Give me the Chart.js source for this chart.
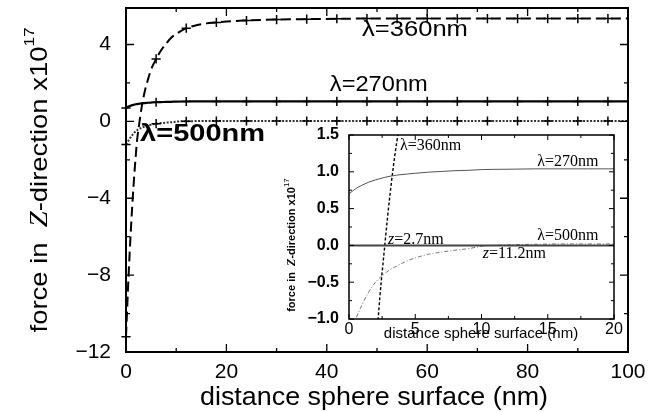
<!DOCTYPE html>
<html><head><meta charset="utf-8">
<script src="https://cdn.jsdelivr.net/npm/chart.js@4"></script>
<style>
html,body{margin:0;padding:0;background:#fff;}
#wrap{position:relative;width:650px;height:412px;overflow:hidden;}
#main{position:absolute;left:0;top:0;}
#inset{position:absolute;left:280px;top:120px;}
</style></head><body>
<div id="wrap"><canvas id="main" width="650" height="412"></canvas><canvas id="inset" width="350" height="230"></canvas></div>
<script>
// ---- data ----
const distance = [0, 0.5, 1, 1.5, 2, 2.2, 2.7, 3.1, 3.6, 4.4, 5, 6, 7, 8, 9, 10, 12, 14, 16, 18, 20, 24, 30, 36, 42, 48, 54, 60, 66, 72, 78, 84, 90, 96, 100];
const force360 = [-11.2, -8.1, -5.5, -3.35, -1.6, -1.0, 0, 0.7, 1.4, 2.2, 2.7, 3.25, 3.7, 4.05, 4.35, 4.55, 4.85, 5.0, 5.1, 5.15, 5.2, 5.25, 5.3, 5.32, 5.34, 5.35, 5.35, 5.35, 5.35, 5.35, 5.35, 5.35, 5.35, 5.35, 5.35];
const force270 = [0.7, 0.77, 0.82, 0.86, 0.89, 0.9, 0.925, 0.94, 0.955, 0.97, 0.98, 0.995, 1.005, 1.015, 1.02, 1.03, 1.035, 1.04, 1.04, 1.04, 1.04, 1.04, 1.04, 1.04, 1.04, 1.04, 1.04, 1.04, 1.04, 1.04, 1.04, 1.04, 1.04, 1.04, 1.04];
const force500 = [-1.2, -1.0, -0.8, -0.63, -0.5, -0.46, -0.38, -0.33, -0.28, -0.21, -0.17, -0.12, -0.09, -0.065, -0.045, -0.012, 0.008, 0.015, 0.02, 0.02, 0.02, 0.02, 0.02, 0.02, 0.02, 0.02, 0.02, 0.02, 0.02, 0.02, 0.02, 0.02, 0.02, 0.02, 0.02];
const zeroLineX = [0, 20];
const zeroLineY = [0, 0];
const markerStep = 6;
const mainXTicks = [0, 20, 40, 60, 80, 100];
const mainYTicks = [-12, -8, -4, 0, 4];
const insetXTicks = [0, 5, 10, 15, 20];
const insetYTicks = [-1.0, -0.5, 0.0, 0.5, 1.0, 1.5];

const pts = ys => distance.map((x, i) => ({x: x, y: ys[i]}));
const minus = s => s.replace('-', '\u2212');
const SANS = '"Liberation Sans", Arial, Helvetica, sans-serif';
const SERIF = '"Liberation Serif", "Times New Roman", serif';

function isMarker(ctx) {
  const r = ctx.raw; if (!r) return false;
  const q = r.x / markerStep;
  return Math.abs(q - Math.round(q)) < 1e-9 && r.x < 100;
}
function noPadV(s, w) { s.width = w; s.paddingTop = 0; s.paddingBottom = 0; }
function noPadH(s, h) { s.height = h; s.paddingLeft = 0; s.paddingRight = 0; }

// inward tick marks + frame
function framePlugin(o) {
  return {
    id: 'frame',
    beforeDatasetsDraw(chart) {
      if (!o.fill) return;
      const a = chart.chartArea, c = chart.ctx;
      c.save(); c.fillStyle = '#fff'; c.fillRect(a.left, a.top, a.width, a.height); c.restore();
    },
    afterDatasetsDraw(chart) {
      const c = chart.ctx, a = chart.chartArea, x = chart.scales.x, y = chart.scales.y;
      c.save(); c.strokeStyle = '#000'; c.lineWidth = o.tickW;
      const isMaj = (v, m) => Math.abs(v / m - Math.round(v / m)) < 1e-6;
      c.beginPath();
      for (let i = 0; ; i++) {
        const v = x.min + i * o.xMinor; if (v > x.max + 1e-9) break;
        const p = x.getPixelForValue(v), L = isMaj(v, o.xMajor) ? o.major : o.minor;
        c.moveTo(p, a.bottom); c.lineTo(p, a.bottom - L);
        c.moveTo(p, a.top); c.lineTo(p, a.top + L);
      }
      for (let i = 0; ; i++) {
        const v = o.yStart + i * o.yMinor; if (v > y.max + 1e-9) break;
        if (v < y.min - 1e-9) continue;
        const p = y.getPixelForValue(v), L = isMaj(v, o.yMajor) ? o.major : o.minor;
        c.moveTo(a.left, p); c.lineTo(a.left + L, p);
        c.moveTo(a.right, p); c.lineTo(a.right - L, p);
      }
      c.stroke();
      c.lineWidth = o.frameW;
      c.strokeRect(a.left, a.top, a.width, a.height);
      c.restore();
    }
  };
}

// text pieces drawn in sequence, optionally stretched to a target width
function drawPieces(c, pieces, x0, y0, rot, align, targetW) {
  c.save(); c.translate(x0, y0); if (rot) c.rotate(rot);
  c.fillStyle = '#000'; c.textBaseline = 'middle'; c.textAlign = 'left';
  let w = 0; pieces.forEach(p => { c.font = p.f; w += c.measureText(p.t).width; });
  const sx = targetW ? targetW / w : 1;
  c.scale(sx, 1);
  let xx = align === 'left' ? 0 : -w / 2;
  pieces.forEach(p => { c.font = p.f; c.fillText(p.t, xx, p.dy || 0); xx += c.measureText(p.t).width; });
  c.restore();
}

function labelsPlugin(list, titles) {
  return {
    id: 'labels',
    afterDraw(chart) {
      const c = chart.ctx, x = chart.scales.x, y = chart.scales.y;
      list.forEach(l => {
        drawPieces(c, l.pieces, x.getPixelForValue(l.x), y.getPixelForValue(l.y), 0, 'left', l.w);
      });
      titles(chart, c);
    }
  };
}

const crossPts = {pointStyle: 'cross', pointRadius: c => isMarker(c) ? 4.6 : 0, pointBorderWidth: 1.5, pointBorderColor: '#000', pointHoverRadius: 0};

// ---- main chart ----
new Chart(document.getElementById('main'), {
  type: 'line',
  data: {
    datasets: [
      Object.assign({data: pts(force360), borderColor: '#000', borderWidth: 2, borderDash: [10, 5], cubicInterpolationMode: 'monotone', clip: false}, crossPts),
      Object.assign({data: pts(force270), borderColor: '#000', borderWidth: 2.2, cubicInterpolationMode: 'monotone', clip: false}, crossPts),
      Object.assign({data: pts(force500), borderColor: '#333', borderWidth: 2, borderDash: [2, 1.5], cubicInterpolationMode: 'monotone', clip: false}, crossPts)
    ]
  },
  options: {
    responsive: false, animation: false, devicePixelRatio: 1,
    layout: {padding: {top: 8, right: 22, left: 0, bottom: 0}},
    plugins: {legend: {display: false}, tooltip: {enabled: false}},
    scales: {
      x: {type: 'linear', min: 0, max: 100,
          grid: {display: false, drawTicks: false}, border: {display: false},
          afterBuildTicks: s => { s.ticks = mainXTicks.map(v => ({value: v})); },
          afterFit: s => noPadH(s, 60),
          ticks: {padding: 8, color: '#000', font: {family: SANS, size: 21}, maxRotation: 0, callback: v => minus(String(v))}},
      y: {type: 'linear', min: -12, max: 5.9,
          grid: {display: false, drawTicks: false}, border: {display: false},
          afterBuildTicks: s => { s.ticks = mainYTicks.map(v => ({value: v})); },
          afterFit: s => noPadV(s, 126),
          ticks: {padding: 15, color: '#000', font: {family: SANS, size: 21}, callback: v => minus(String(v))}}
    }
  },
  plugins: [
    framePlugin({xMajor: 20, xMinor: 10, yStart: -12, yMajor: 4, yMinor: 2, major: 8, minor: 4, tickW: 1.3, frameW: 2, fill: false}),
    labelsPlugin([
      {x: 47, y: 4.74, w: 106, pieces: [{t: 'λ=360nm', f: '22px ' + SANS}]},
      {x: 40.6, y: 1.91, w: 98, pieces: [{t: 'λ=270nm', f: '22px ' + SANS}]},
      {x: 2.8, y: -0.68, w: 125, pieces: [{t: 'λ=500nm', f: 'bold 23px ' + SANS}]}
    ], (chart, c) => {
      drawPieces(c, [{t: 'distance sphere surface (nm)', f: '25px ' + SANS}], 374, 398, 0, 'center', 348);
      drawPieces(c, [
        {t: 'force in  ', f: '24px ' + SANS},
        {t: 'Z', f: 'italic 25px ' + SERIF},
        {t: '-direction x10', f: '24px ' + SANS},
        {t: '17', f: '15px ' + SANS, dy: -10}
      ], 40, 180, -Math.PI / 2, 'center', 305);
    })
  ]
});

// ---- inset chart ----
new Chart(document.getElementById('inset'), {
  type: 'line',
  data: {
    datasets: [
      {data: zeroLineX.map((x, i) => ({x: x, y: zeroLineY[i]})), borderColor: '#444', borderWidth: 2, pointRadius: 0},
      {data: pts(force270), borderColor: '#555', borderWidth: 1, cubicInterpolationMode: 'monotone', pointRadius: 0},
      {data: pts(force500), borderColor: '#777', borderWidth: 1, borderDash: [4, 2, 1, 2], cubicInterpolationMode: 'monotone', pointRadius: 0},
      {data: pts(force360), borderColor: '#000', borderWidth: 1.4, borderDash: [3, 2], cubicInterpolationMode: 'monotone', pointRadius: 0}
    ]
  },
  options: {
    responsive: false, animation: false, devicePixelRatio: 1,
    layout: {padding: {top: 15, right: 16, left: 0, bottom: 0}},
    plugins: {legend: {display: false}, tooltip: {enabled: false}},
    scales: {
      x: {type: 'linear', min: 0, max: 20,
          grid: {display: false, drawTicks: false}, border: {display: false},
          afterBuildTicks: s => { s.ticks = insetXTicks.map(v => ({value: v})); },
          afterFit: s => noPadH(s, 31),
          ticks: {padding: 1, color: '#000', font: {family: SANS, size: 16}, maxRotation: 0, callback: v => String(v)}},
      y: {type: 'linear', min: -1, max: 1.5,
          grid: {display: false, drawTicks: false}, border: {display: false},
          afterBuildTicks: s => { s.ticks = insetYTicks.map(v => ({value: v})); },
          afterFit: s => noPadV(s, 69),
          ticks: {padding: 10, color: '#000', font: {family: SANS, size: 16, weight: 'bold'}, callback: v => minus(Number(v).toFixed(1))}}
    }
  },
  plugins: [
    framePlugin({xMajor: 5, xMinor: 2.5, yStart: -1, yMajor: 0.5, yMinor: 0.25, major: 5, minor: 3, tickW: 1, frameW: 1.5, fill: true}),
    labelsPlugin([
      {x: 3.85, y: 1.36, pieces: [{t: 'λ=360nm', f: '16px ' + SERIF}]},
      {x: 14.2, y: 1.14, pieces: [{t: 'λ=270nm', f: '16px ' + SERIF}]},
      {x: 2.95, y: 0.08, pieces: [{t: 'z', f: 'italic 16px ' + SERIF}, {t: '=2.7nm', f: '16px ' + SERIF}]},
      {x: 14.2, y: 0.136, pieces: [{t: 'λ=500nm', f: '16px ' + SERIF}]},
      {x: 10.1, y: -0.12, pieces: [{t: 'z', f: 'italic 16px ' + SERIF}, {t: '=11.2nm', f: '16px ' + SERIF}]}
    ], (chart, c) => {
      drawPieces(c, [{t: 'distance sphere surface (nm)', f: '15px ' + SANS}], 201, 214, 0, 'center');
      drawPieces(c, [
        {t: 'force in  ', f: 'bold 11px ' + SANS},
        {t: 'Z', f: 'italic bold 12px ' + SERIF},
        {t: '-direction x10', f: 'bold 11px ' + SANS},
        {t: '17', f: '8px ' + SANS, dy: -5}
      ], 12, 125, -Math.PI / 2, 'center');
    })
  ]
});
</script>
</body></html>
